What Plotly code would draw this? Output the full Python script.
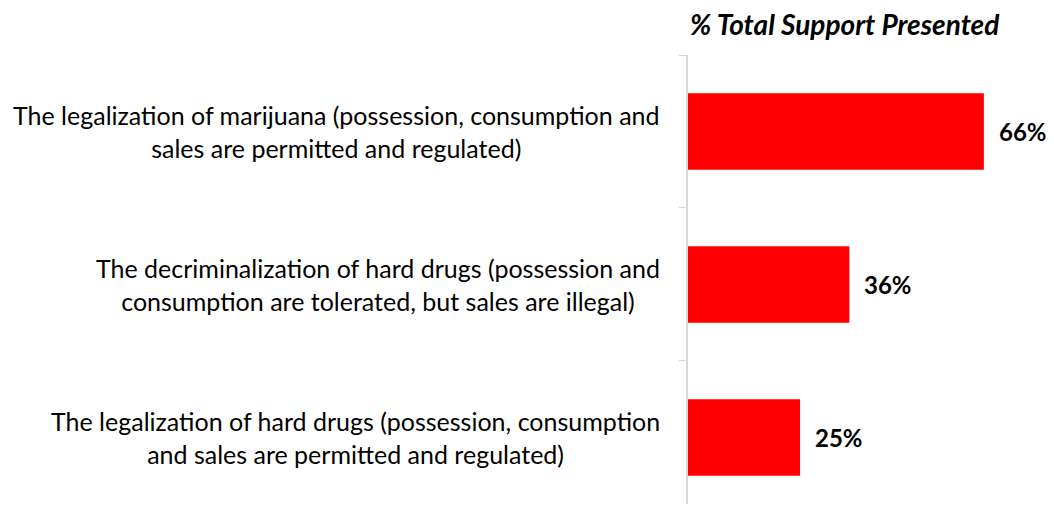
import plotly.graph_objects as go

categories = [
    "The legalization of marijuana (possession, consumption and<br>sales are permitted and regulated)",
    "The decriminalization of hard drugs (possession and<br>consumption are tolerated, but sales are illegal)",
    "The legalization of hard drugs (possession, consumption<br>and sales are permitted and regulated)",
]
support = [66, 36, 25]
value_labels = ["66%", "36%", "25%"]

FONT = "Lato"

fig = go.Figure()
fig.add_trace(go.Bar(
    x=support, y=categories, orientation="h",
    marker=dict(color="#ff0000", line=dict(width=0)),
    width=0.5,
))

# value labels right of bars
for cat, v, lab in zip(categories, support, value_labels):
    fig.add_annotation(x=v, y=cat, xref="x", yref="y", text="<b>" + lab + "</b>",
                       showarrow=False, xanchor="left", xshift=13,
                       font=dict(family=FONT, size=24, color="black"))
    # category labels, centred lines
    fig.add_annotation(x=0, y=cat, xref="paper", yref="y", text=cat,
                       showarrow=False, xanchor="right", xshift=-26, align="center",
                       font=dict(family=FONT, size=25, color="black"))

fig.add_annotation(x=0, y=1, xref="paper", yref="paper", yanchor="middle", xanchor="left",
                   xshift=0, yshift=31,
                   text="<b><i>% Total Support Presented</i></b>", showarrow=False,
                   font=dict(family=FONT, size=28, color="black"))

# the page body has an 8px margin, so the figure is shrunk to fit the window
fig.update_layout(
    width=1046, height=496,
    margin=dict(l=680, r=15, t=47, b=0),
    plot_bgcolor="white", paper_bgcolor="white",
    showlegend=False,
    xaxis=dict(range=[0, 78.3], visible=False),
    yaxis=dict(range=[2.435, -0.5], showticklabels=False, tickson="boundaries",
               ticks="outside", ticklen=7, tickcolor="#d9d9d9", tickwidth=1,
               showline=True, linecolor="#d9d9d9", linewidth=2, showgrid=False),
)

fig.write_html("out.html")
